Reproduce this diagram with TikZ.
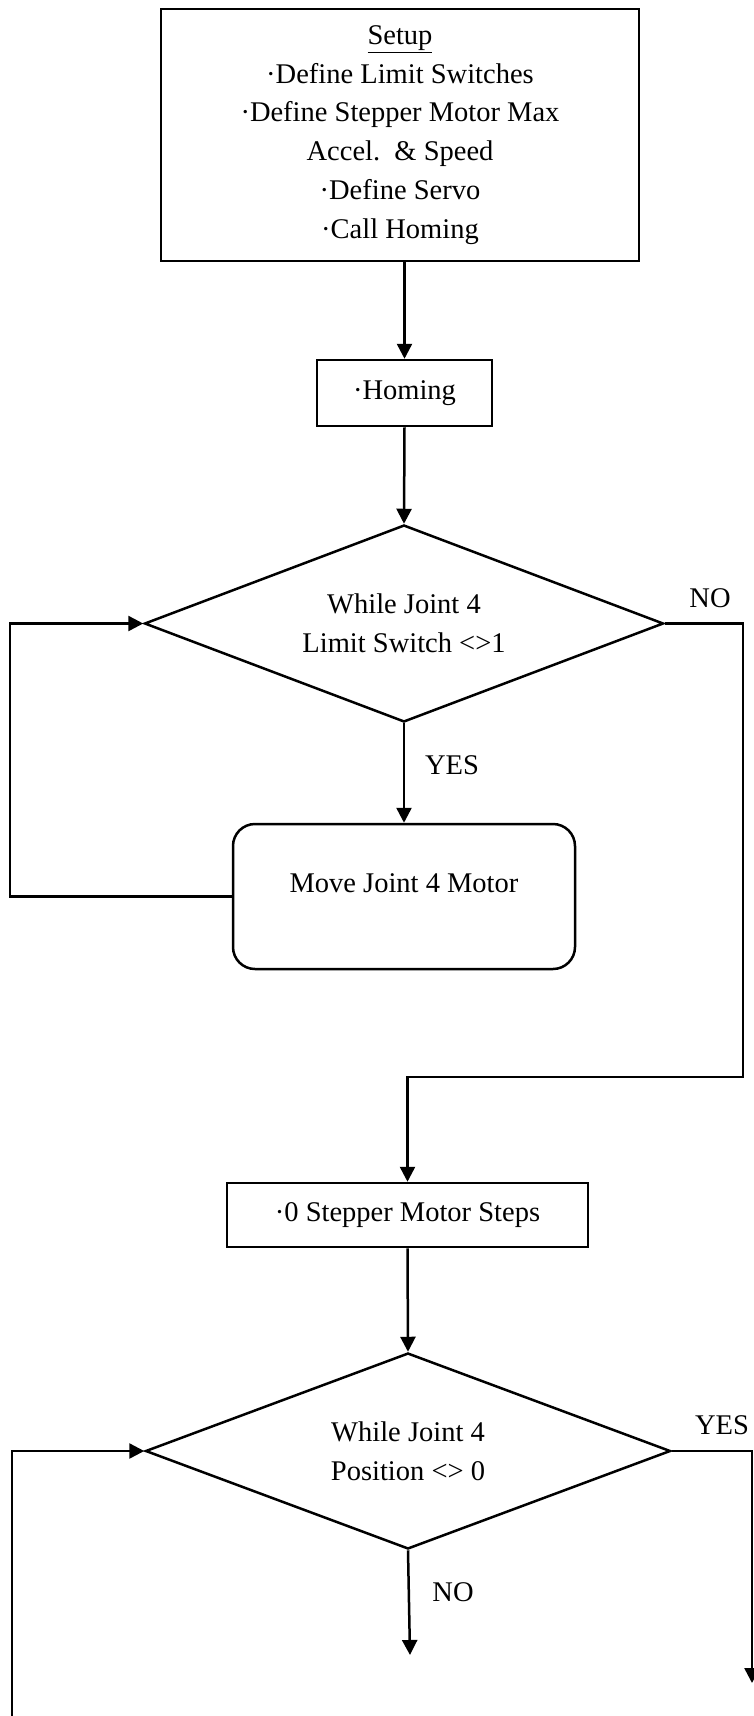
\documentclass[tikz,border=0pt]{standalone}
\usepackage{fontspec}
\setmainfont{Liberation Serif}
\usepackage{tikz}
\usetikzlibrary{shapes.geometric}
\usetikzlibrary{arrows.meta}
\tikzset{>={Triangle[length=15pt,width=15pt]}}
\tikzset{
	flowline/.style={line width=2.5pt},
	procbox/.style={draw,line width=2.5pt,rectangle,align=center,inner sep=0pt},
	decbox/.style={draw,line width=2.5pt,diamond,aspect=2.6,align=center,inner sep=0pt},
	movebox/.style={procbox,rounded corners=22pt},
	answer/.style={inner sep=0pt}
}

\begin{document}
\begin{tikzpicture}[x=1pt,y=-1pt,font=\fontsize{28.5}{38.8}\selectfont]
	\useasboundingbox (0,0) rectangle (753,1716);
	
	% BOXES
	\node[procbox,minimum width=478pt,minimum height=252pt] (setup) at (400,135)
	{\underline{Setup}\\·Define Limit Switches\\·Define Stepper Motor Max\\
	Accel.\ \ \& Speed\\·Define Servo\\·Call Homing};
	\node[procbox,minimum width=175pt,minimum height=66pt] (homing) at (404.5,393) {·Homing};
	\node[decbox,minimum width=519pt,minimum height=197pt] (while1) at (404,623.5)
	{While Joint 4\\Limit Switch <>1};
	\node[movebox,minimum width=342pt,minimum height=145pt,
	text height=20pt,text depth=29pt] (move) at (404,896.5) {Move Joint 4 Motor};
	\node[procbox,minimum width=361pt,minimum height=64pt] (zero) at (407.5,1215)
	{·0 Stepper Motor Steps};
	\node[decbox,minimum width=525pt,minimum height=196pt] (while2) at (408,1451)
	{While Joint 4\\Position <> 0};
	
	% ANSWERS
	\node[answer] (no1) at (710,598) {NO};
	\node[answer] (yes1) at (452,765) {YES};
	\node[answer] (yes2) at (722,1425) {YES};
	\node[answer] (no2) at (453,1592) {NO};
	
	% LANES
	\coordinate (lft1) at (10,0);
	\coordinate (rgt1) at (743,0);
	\coordinate (mid1) at (0,1077);
	\coordinate (noend) at (410,1655);
	\coordinate (yesend) at (752,1683);
	\coordinate (lftend) at (12,1725);
	
	% ARROWS
	\draw[flowline,->] (setup.south -| homing.north) -- (homing.north);
	\draw[flowline,->] (homing.south) -- (while1.north);
	\draw[flowline,->] (while1.south) -- (move.north);
	\draw[flowline,->] (move.west) -- (move.west -| lft1) |- (while1.west);
	\draw[flowline,->] (while1.east) -- (while1.east -| rgt1) |- (zero.north |- mid1)
	-- (zero.north);
	\draw[flowline,->] (zero.south) -- (while2.north);
	\draw[flowline,->] (while2.south) -- (noend);
	\draw[flowline,->] (while2.east) -| (yesend);
	\draw[flowline,->] (lftend) |- (while2.west);
\end{tikzpicture}
\end{document}
